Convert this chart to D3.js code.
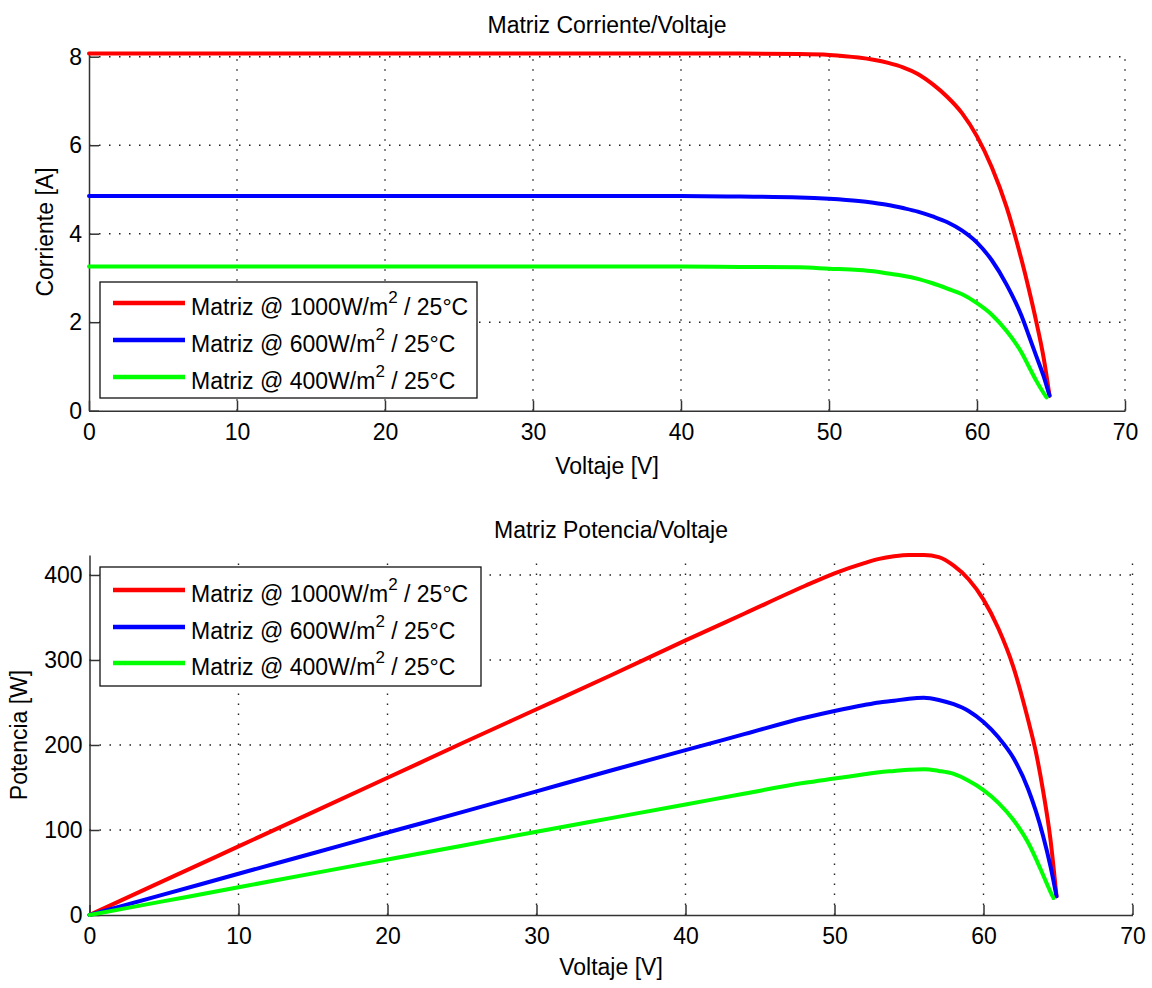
<!DOCTYPE html>
<html>
<head>
<meta charset="utf-8">
<script src="https://cdn.jsdelivr.net/npm/d3@7"></script>
<style>
  body { margin: 0; background: #fff; }
  text { font-family: "Liberation Sans", Arial, sans-serif; fill: #000; }
</style>
</head>
<body>
<svg id="chart" width="1152" height="988"></svg>
<script>
// ---------------- DATA ----------------
const voltage    = [0,5,10,15,20,25,30,35,40,44,48,50,52,53,54,55,56,57,58,59,60,61,62,63,63.5,64,64.5,64.9];
const voltage400 = [0,5,10,15,20,25,30,35,40,44,48,50,52,53,54,55,56,57,58,59,60,61,62,63,63.5,64,64.5,64.7];

const current1000 = [8.07,8.07,8.07,8.07,8.07,8.07,8.07,8.07,8.07,8.07,8.06,8.04,7.98,7.93,7.86,7.76,7.61,7.38,7.09,6.72,6.2,5.5,4.6,3.42,2.75,2.02,1.2,0.34];
const current600  = [4.85,4.85,4.85,4.85,4.85,4.85,4.85,4.85,4.85,4.84,4.82,4.79,4.74,4.70,4.65,4.58,4.5,4.39,4.26,4.07,3.8,3.4,2.85,2.15,1.7,1.24,0.78,0.34];
const current400  = [3.26,3.26,3.26,3.26,3.26,3.26,3.26,3.26,3.26,3.25,3.24,3.21,3.18,3.15,3.1,3.05,2.98,2.88,2.76,2.63,2.43,2.17,1.8,1.32,1.0,0.68,0.4,0.3];

const power1000 = [0,40.4,80.7,121,161.4,202,242,282,323,355,387,402,414,419,422,423.5,423.5,421,411,395,371,337,292,229,193,146,88,22];
const power600  = [0,24.2,48.5,72.7,97,121,145.5,170,194,213,232,240,247,250,252,254.5,255.5,253,248,240,227,209,185,148,123,93,57,22];
const power400  = [0,16.3,32.6,49,65.2,81.5,98,114,130,143,155.5,160.5,165.5,168,169.5,171,171.5,169.5,166,158,147,132,112,85,67,47,27,20];

const irradiance = ["1000", "600", "400"];
const seriesColors = ["#ff0000", "#0000ff", "#00ff00"];
const xTicks = [0,10,20,30,40,50,60,70];
const yTicksCurrent = [0,2,4,6,8];
const yTicksPower = [0,100,200,300,400];
const xDomain = [0, 70];
const currentMax = 8.077;
const powerMax = 423.5;

// ---------------- DRAW ----------------
const svg = d3.select("#chart");
const FONT = 23;
const AXIS_COLOR = "#333";

function panel(cfg) {
  const g = svg.append("g");
  const x = d3.scaleLinear().domain(xDomain).range([cfg.left, cfg.right]);
  const y = d3.scaleLinear().domain([0, cfg.ymax]).range([cfg.bottom, cfg.top]);

  // grid
  const grid = g.append("g").attr("stroke", "#222").attr("stroke-width", 1.4)
    .attr("stroke-dasharray", "1.5,8.5");
  grid.selectAll(".gx").data(xTicks.filter(d => d > 0)).join("line")
    .attr("x1", d => x(d)).attr("x2", d => x(d))
    .attr("y1", cfg.bottom).attr("y2", cfg.top);
  grid.selectAll(".gy").data(cfg.yTicks.filter(d => d > 0)).join("line")
    .attr("x1", cfg.left).attr("x2", cfg.right)
    .attr("y1", d => y(d)).attr("y2", d => y(d));

  // axes
  const xa = g.append("g").attr("transform", `translate(0,${cfg.bottom})`)
    .call(d3.axisBottom(x).tickValues(xTicks).tickSize(-10).tickSizeOuter(0).tickPadding(13));
  const ya = g.append("g").attr("transform", `translate(${cfg.left},0)`)
    .call(d3.axisLeft(y).tickValues(cfg.yTicks).tickSize(-10).tickSizeOuter(0).tickPadding(7));
  [xa, ya].forEach(a => {
    a.select(".domain").attr("stroke", AXIS_COLOR).attr("stroke-width", 1.5);
    a.selectAll(".tick line").attr("stroke", AXIS_COLOR).attr("stroke-width", 1.5);
    a.selectAll(".tick text").attr("font-size", FONT)
      .attr("font-family", '"Liberation Sans", Arial, sans-serif').attr("fill", "#000");
  });

  // series
  const line = d3.line().x(d => x(d[0])).y(d => y(d[1])).curve(d3.curveMonotoneX);
  cfg.series.forEach((s, i) => {
    const pts = s.v.map((v, k) => [v, s.vals[k]]);
    g.append("path").datum(pts).attr("d", line)
      .attr("fill", "none").attr("stroke", seriesColors[i])
      .attr("stroke-width", 4).attr("stroke-linejoin", "round").attr("stroke-linecap", "round");
  });

  // title & labels
  const cx = (cfg.left + cfg.right) / 2;
  g.append("text").attr("x", cx).attr("y", cfg.titleY).attr("text-anchor", "middle")
    .attr("font-size", FONT).text(cfg.title);
  g.append("text").attr("x", cx).attr("y", cfg.xlabelY).attr("text-anchor", "middle")
    .attr("font-size", FONT).text("Voltaje [V]");
  g.append("text").attr("transform", `translate(${cfg.ylabelX},${(cfg.top + cfg.bottom) / 2}) rotate(-90)`)
    .attr("text-anchor", "middle").attr("font-size", FONT).text(cfg.ylabel);

  // legend
  const L = cfg.legend;
  const lg = g.append("g");
  lg.append("rect").attr("x", L.x).attr("y", L.y).attr("width", L.w).attr("height", L.h)
    .attr("fill", "#fff").attr("stroke", "#111").attr("stroke-width", 1.3);
  irradiance.forEach((irr, i) => {
    const ry = L.rows[i];
    lg.append("line").attr("x1", L.x + 13).attr("x2", L.x + 85).attr("y1", ry).attr("y2", ry)
      .attr("stroke", seriesColors[i]).attr("stroke-width", 4.5);
    const t = lg.append("text").attr("x", L.x + 91).attr("y", ry + 11.5).attr("font-size", FONT);
    t.append("tspan").text(`Matriz @ ${irr}W/m`);
    t.append("tspan").attr("font-size", 17).attr("dy", -12).text("2");
    t.append("tspan").attr("dy", 12).text(" / 25°C");
  });
}

panel({
  left: 89, right: 1125, top: 53.3, bottom: 410.7, ymax: currentMax,
  yTicks: yTicksCurrent,
  title: "Matriz Corriente/Voltaje", titleY: 33, xlabelY: 474,
  ylabel: "Corriente [A]", ylabelX: 53,
  series: [
    { v: voltage, vals: current1000 },
    { v: voltage, vals: current600 },
    { v: voltage400, vals: current400 }
  ],
  legend: { x: 100, y: 282, w: 377, h: 116, rows: [303, 340, 377] }
});

panel({
  left: 89.5, right: 1132.5, top: 555, bottom: 915, ymax: powerMax,
  yTicks: yTicksPower,
  title: "Matriz Potencia/Voltaje", titleY: 538, xlabelY: 975,
  ylabel: "Potencia [W]", ylabelX: 27,
  series: [
    { v: voltage, vals: power1000 },
    { v: voltage, vals: power600 },
    { v: voltage400, vals: power400 }
  ],
  legend: { x: 100, y: 567, w: 381, h: 119, rows: [590, 627, 663] }
});
</script>
</body>
</html>
